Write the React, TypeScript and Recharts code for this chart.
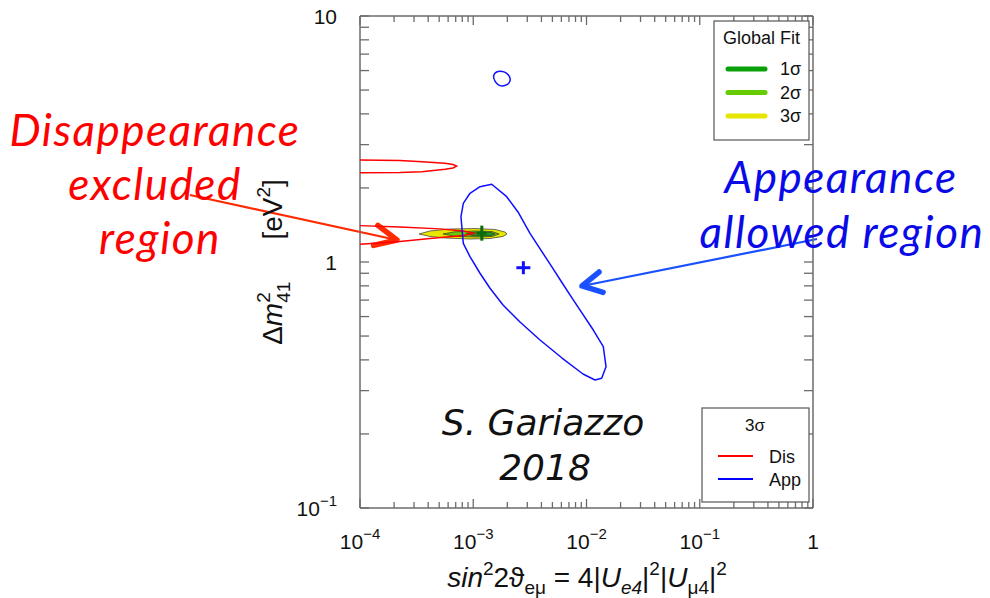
import React from "react";
import { ScatterChart, Scatter, XAxis, YAxis, ReferenceLine } from "recharts";

// axis decades and minor steps
const xDecades = [1e-4, 1e-3, 1e-2, 1e-1, 1];
const yDecades = [0.1, 1, 10];
const minorSteps = [2, 3, 4, 5, 6, 7, 8, 9];

const withMinors = (dec: number[]) =>
  dec.flatMap((d, i) => (i < dec.length - 1 ? [d, ...minorSteps.map((m) => d * m)] : [d]));
const xTicks = withMinors(xDecades);
const yTicks = withMinors(yDecades);

// 3 sigma appearance allowed region (closed)
const appContour = [
  { x: 1.455e-3, y: 2.07 }, { x: 1.974e-3, y: 1.843 }, { x: 2.484e-3, y: 1.597 },
  { x: 3.17e-3, y: 1.308 }, { x: 4.93e-3, y: 0.957 }, { x: 5.87e-3, y: 0.845 },
  { x: 7.64e-3, y: 0.701 }, { x: 1.148e-2, y: 0.529 }, { x: 1.407e-2, y: 0.4525 },
  { x: 1.487e-2, y: 0.3753 }, { x: 1.362e-2, y: 0.3367 }, { x: 1.189e-2, y: 0.3314 },
  { x: 9.31e-3, y: 0.3505 }, { x: 6.08e-3, y: 0.407 }, { x: 3.886e-3, y: 0.482 },
  { x: 2.587e-3, y: 0.57 }, { x: 1.832e-3, y: 0.669 }, { x: 1.406e-3, y: 0.782 },
  { x: 1.147e-3, y: 0.9 }, { x: 9.36e-4, y: 1.051 }, { x: 8.17e-4, y: 1.191 },
  { x: 7.79e-4, y: 1.528 }, { x: 8.17e-4, y: 1.732 }, { x: 9.36e-4, y: 1.903 },
  { x: 1.147e-3, y: 2.024 },
];
const appIsland = [
  { x: 1.503e-3, y: 5.65 }, { x: 1.525e-3, y: 5.81 }, { x: 1.604e-3, y: 5.933 },
  { x: 1.722e-3, y: 5.975 }, { x: 1.869e-3, y: 5.943 }, { x: 2.026e-3, y: 5.81 },
  { x: 2.133e-3, y: 5.598 }, { x: 2.111e-3, y: 5.392 }, { x: 2.006e-3, y: 5.243 },
  { x: 1.794e-3, y: 5.18 }, { x: 1.671e-3, y: 5.219 }, { x: 1.55e-3, y: 5.417 },
];

// 3 sigma disappearance excluded region boundaries
const disUpper = [
  { x: 1e-4, y: 2.598 }, { x: 2.255e-4, y: 2.586 }, { x: 3.53e-4, y: 2.557 },
  { x: 5.63e-4, y: 2.519 }, { x: 6.63e-4, y: 2.49 }, { x: 7.14e-4, y: 2.456 },
  { x: 6.63e-4, y: 2.411 }, { x: 5.63e-4, y: 2.382 }, { x: 3.53e-4, y: 2.328 },
  { x: 2.255e-4, y: 2.311 }, { x: 1e-4, y: 2.307 },
];
const disLower = [
  { x: 1e-4, y: 1.405 }, { x: 2.255e-4, y: 1.388 }, { x: 5.09e-4, y: 1.364 },
  { x: 8.12e-4, y: 1.337 }, { x: 1.036e-3, y: 1.308 }, { x: 8.12e-4, y: 1.281 },
  { x: 4.15e-4, y: 1.246 }, { x: 2.255e-4, y: 1.211 }, { x: 1e-4, y: 1.18 },
];

// global fit regions
const fit3 = [
  { x: 3.32e-4, y: 1.3 }, { x: 4.15e-4, y: 1.337 }, { x: 6.23e-4, y: 1.362 },
  { x: 1.036e-3, y: 1.368 }, { x: 1.556e-3, y: 1.356 }, { x: 1.907e-3, y: 1.324 },
  { x: 1.986e-3, y: 1.3 }, { x: 1.832e-3, y: 1.27 }, { x: 1.406e-3, y: 1.246 },
  { x: 9.36e-4, y: 1.24 }, { x: 5.63e-4, y: 1.252 }, { x: 4.15e-4, y: 1.27 },
];
const fit2 = [
  { x: 5.41e-4, y: 1.3 }, { x: 6.9e-4, y: 1.327 }, { x: 1.036e-3, y: 1.337 },
  { x: 1.465e-3, y: 1.33 }, { x: 1.688e-3, y: 1.3 }, { x: 1.465e-3, y: 1.27 },
  { x: 1.036e-3, y: 1.264 }, { x: 6.9e-4, y: 1.272 },
];
const fit1 = [
  { x: 8.63e-4, y: 1.3 }, { x: 9.95e-4, y: 1.32 }, { x: 1.195e-3, y: 1.324 },
  { x: 1.434e-3, y: 1.318 }, { x: 1.556e-3, y: 1.3 }, { x: 1.434e-3, y: 1.28 },
  { x: 1.195e-3, y: 1.276 }, { x: 9.95e-4, y: 1.279 },
];
const bestFitGlobal = [{ x: 1.19e-3, y: 1.31 }];
const bestFitApp = [{ x: 2.77e-3, y: 0.948 }];

// annotation arrows (start, tip) in data coordinates
const redArrow = [{ x: 3.15e-6, y: 1.873 }, { x: 2.12e-4, y: 1.229 }];
const blueArrow = [{ x: 1.085, y: 1.24 }, { x: 9.13e-3, y: 0.799 }];

const globalFitLegend = [
  { label: "1σ", color: "#0aa00a" },
  { label: "2σ", color: "#66cc00" },
  { label: "3σ", color: "#e6e600" },
];
const contourLegend = [
  { label: "Dis", color: "#ff0000" },
  { label: "App", color: "#0000ff" },
];

const FONT = '"Liberation Sans", Arial, sans-serif';
const ANNOT = 'Lato, "Open Sans", sans-serif';
const TICK = "#6b6b6b";
const RED = "#ff0000";
const BLUE = "#0a0ae8";

const isMajor = (v: number) => Math.abs(Math.log10(v) - Math.round(Math.log10(v))) < 1e-6;

const PowLabel = ({ x, y, v, anchor }: { x: number; y: number; v: number; anchor: string }) => {
  const e = Math.round(Math.log10(v));
  return (
    <text x={x} y={y} textAnchor={anchor} fontFamily={FONT} fontSize={21} fill="#111">
      {e === 0 ? "1" : <tspan>10</tspan>}
      {e < 0 && <tspan fontSize={15} dy={-10}>{"−" + Math.abs(e)}</tspan>}
    </text>
  );
};

const BottomTick = ({ x, y, payload }: any) => {
  const major = isMajor(payload.value);
  return (
    <g>
      <line x1={x} x2={x} y1={y} y2={y - (major ? 9 : 6)} stroke={TICK} strokeWidth={1.3} />
      {major && <PowLabel x={x} y={y + 41} v={payload.value} anchor="middle" />}
    </g>
  );
};
const TopTick = ({ x, y, payload }: any) => (
  <line x1={x} x2={x} y1={y} y2={y + (isMajor(payload.value) ? 9 : 6)} stroke={TICK} strokeWidth={1.3} />
);
const LeftTick = ({ x, y, payload }: any) => (
  <g>
    <line x1={x} x2={x + 9} y1={y} y2={y} stroke={TICK} strokeWidth={1.3} />
    {isMajor(payload.value) && <PowLabel x={x - 23} y={y + 7.5} v={payload.value} anchor="end" />}
  </g>
);
const RightTick = ({ x, y }: any) => (
  <line x1={x} x2={x - 9} y1={y} y2={y} stroke={TICK} strokeWidth={1.3} />
);

const noDot = () => <g />;
const plus = (color: string, w: number, h: number) => (p: any) => (
  <g stroke={color} strokeWidth={3}>
    <line x1={p.cx - w / 2} x2={p.cx + w / 2} y1={p.cy} y2={p.cy} />
    <line x1={p.cx} x2={p.cx} y1={p.cy - h / 2} y2={p.cy + h / 2} />
  </g>
);
const arrow = (color: string, headLen: number, headAngle: number) => (p: any) => {
  const { x1, y1, x2, y2 } = p;
  const a = Math.atan2(y1 - y2, x1 - x2);
  const h1 = `${x2 + headLen * Math.cos(a + headAngle)},${y2 + headLen * Math.sin(a + headAngle)}`;
  const h2 = `${x2 + headLen * Math.cos(a - headAngle)},${y2 + headLen * Math.sin(a - headAngle)}`;
  return (
    <g>
      <line x1={x1} y1={y1} x2={x2} y2={y2} stroke={color} strokeWidth={2.2} />
      <polyline points={`${h1} ${x2},${y2} ${h2}`} fill="none" stroke={color} strokeWidth={5.5}
        strokeLinecap="round" strokeLinejoin="round" />
    </g>
  );
};

const axisLine = { stroke: TICK, strokeWidth: 1.5 };

export default function App() {
  return (
    <div style={{ position: "absolute", left: 0, top: 0, width: 990, height: 598, background: "#fff" }}>
      <ScatterChart width={990} height={598} margin={{ top: 10, right: 171, bottom: 30, left: 300 }}>
        <XAxis xAxisId="b" dataKey="x" type="number" scale="log" domain={[1e-4, 1]} allowDataOverflow
          ticks={xTicks} interval={0} tickSize={0} tickMargin={0} tickLine={false} height={60}
          axisLine={axisLine} tick={(p: any) => <BottomTick {...p} />} />
        <XAxis xAxisId="t" orientation="top" dataKey="x" type="number" scale="log" domain={[1e-4, 1]}
          allowDataOverflow ticks={xTicks} interval={0} tickSize={0} tickMargin={0} tickLine={false}
          height={6} axisLine={axisLine} tick={(p: any) => <TopTick {...p} />} />
        <YAxis yAxisId="l" dataKey="y" type="number" scale="log" domain={[0.1, 10]} allowDataOverflow
          ticks={yTicks} interval={0} tickSize={0} tickMargin={0} tickLine={false} width={60}
          axisLine={axisLine} tick={(p: any) => <LeftTick {...p} />} />
        <YAxis yAxisId="r" orientation="right" dataKey="y" type="number" scale="log" domain={[0.1, 10]}
          allowDataOverflow ticks={yTicks} interval={0} tickSize={0} tickMargin={0} tickLine={false}
          width={6} axisLine={axisLine} tick={(p: any) => <RightTick {...p} />} />

        <Scatter xAxisId="b" yAxisId="l" data={fit3} shape={noDot} lineJointType="linearClosed"
          line={{ fill: "#e6e600", stroke: "#333", strokeWidth: 0.7 }} isAnimationActive={false} />
        <Scatter xAxisId="b" yAxisId="l" data={fit2} shape={noDot} lineJointType="linearClosed"
          line={{ fill: "#66cc00", stroke: "#333", strokeWidth: 0.7 }} isAnimationActive={false} />
        <Scatter xAxisId="b" yAxisId="l" data={fit1} shape={noDot} lineJointType="linearClosed"
          line={{ fill: "#1f9a1f", stroke: "#333", strokeWidth: 0.7 }} isAnimationActive={false} />
        <Scatter xAxisId="b" yAxisId="l" data={disUpper} shape={noDot} lineJointType="linear"
          line={{ stroke: RED, strokeWidth: 1.4 }} isAnimationActive={false} />
        <Scatter xAxisId="b" yAxisId="l" data={disLower} shape={noDot} lineJointType="linear"
          line={{ stroke: RED, strokeWidth: 1.4 }} isAnimationActive={false} />
        <Scatter xAxisId="b" yAxisId="l" data={appContour} shape={noDot} lineJointType="linearClosed"
          line={{ stroke: "#1010ff", strokeWidth: 1.5, strokeLinejoin: "round" }} isAnimationActive={false} />
        <Scatter xAxisId="b" yAxisId="l" data={appIsland} shape={noDot} lineJointType="basisClosed"
          line={{ stroke: "#1010ff", strokeWidth: 1.5 }} isAnimationActive={false} />
        <Scatter xAxisId="b" yAxisId="l" data={bestFitGlobal} shape={plus("#0b6b0b", 10, 15)}
          isAnimationActive={false} />
        <Scatter xAxisId="b" yAxisId="l" data={bestFitApp} shape={plus("#1010ff", 14, 13)}
          isAnimationActive={false} />

        <ReferenceLine xAxisId="b" yAxisId="l" segment={redArrow} ifOverflow="visible"
          shape={arrow("#ff2a00", 24, 0.44)} />
        <ReferenceLine xAxisId="b" yAxisId="l" segment={blueArrow} ifOverflow="visible"
          shape={arrow("#1a50ff", 22, 0.49)} />
      </ScatterChart>

      <svg width={990} height={598} style={{ position: "absolute", left: 0, top: 0, pointerEvents: "none" }}>
        {/* axis titles */}
        <text x={587} y={587} textAnchor="middle" fontFamily={FONT} fontSize={28} fill="#111">
          <tspan fontStyle="italic">sin</tspan>
          <tspan fontSize={19} dy={-12}>2</tspan>
          <tspan dy={12}>2ϑ</tspan>
          <tspan fontSize={19} dy={7}>eμ</tspan>
          <tspan dy={-7}>{" = 4|"}</tspan>
          <tspan fontStyle="italic">U</tspan>
          <tspan fontSize={19} dy={7} fontStyle="italic">e4</tspan>
          <tspan dy={-7}>|</tspan>
          <tspan fontSize={19} dy={-12}>2</tspan>
          <tspan dy={12}>|</tspan>
          <tspan fontStyle="italic">U</tspan>
          <tspan fontSize={19} dy={7}>μ4</tspan>
          <tspan dy={-7}>|</tspan>
          <tspan fontSize={19} dy={-12}>2</tspan>
        </text>
        <text x={282} y={262} transform="rotate(-90 282 262)" textAnchor="middle" fontFamily={FONT}
          fontSize={28} fill="#111">
          <tspan>Δ</tspan>
          <tspan fontStyle="italic">m</tspan>
          <tspan fontSize={19} dy={-12}>2</tspan>
          <tspan fontSize={19} dx={-10.5} dy={20}>41</tspan>
          <tspan dx={42} dy={-8}>[eV</tspan>
          <tspan fontSize={19} dy={-12}>2</tspan>
          <tspan dy={12}>]</tspan>
        </text>

        {/* legends */}
        <rect x={714} y={21} width={95} height={119} fill="#fff" stroke="#555" strokeWidth={1.2} />
        <text x={761.5} y={44} textAnchor="middle" fontFamily={FONT} fontSize={18} fill="#111">Global Fit</text>
        {globalFitLegend.map((e, i) => (
          <g key={e.label}>
            <line x1={728} x2={765} y1={69 + i * 23.5} y2={69 + i * 23.5} stroke={e.color} strokeWidth={5}
              strokeLinecap="round" />
            <text x={801} y={75 + i * 23.5} textAnchor="end" fontFamily={FONT} fontSize={18} fill="#111">
              {e.label}
            </text>
          </g>
        ))}
        <rect x={702} y={408} width={107} height={94} fill="#fff" stroke="#555" strokeWidth={1.2} />
        <text x={755} y={431} textAnchor="middle" fontFamily={FONT} fontSize={17} fill="#111">3σ</text>
        {contourLegend.map((e, i) => (
          <g key={e.label}>
            <line x1={718} x2={753} y1={456 + i * 23} y2={456 + i * 23} stroke={e.color} strokeWidth={2} />
            <text x={769} y={463 + i * 23} fontFamily={FONT} fontSize={18} fill="#111">{e.label}</text>
          </g>
        ))}

        {/* annotations */}
        <g fontFamily={ANNOT} fontStyle="italic" fontSize={44} letterSpacing={1.5} textAnchor="middle">
          <text x={155} y={146} fill={RED}>Disappearance</text>
          <text x={155} y={200} fill={RED}>excluded</text>
          <text x={160} y={254} fill={RED}>region</text>
          <text x={841} y={193} fill={BLUE}>Appearance</text>
          <text x={842} y={248} fill={BLUE}>allowed region</text>
        </g>
        <g fontFamily='"DejaVu Sans", sans-serif' fontStyle="italic" fontSize={36} textAnchor="middle" fill="#111">
          <text x={543} y={435}>S. Gariazzo</text>
          <text x={545} y={480}>2018</text>
        </g>
      </svg>
    </div>
  );
}
